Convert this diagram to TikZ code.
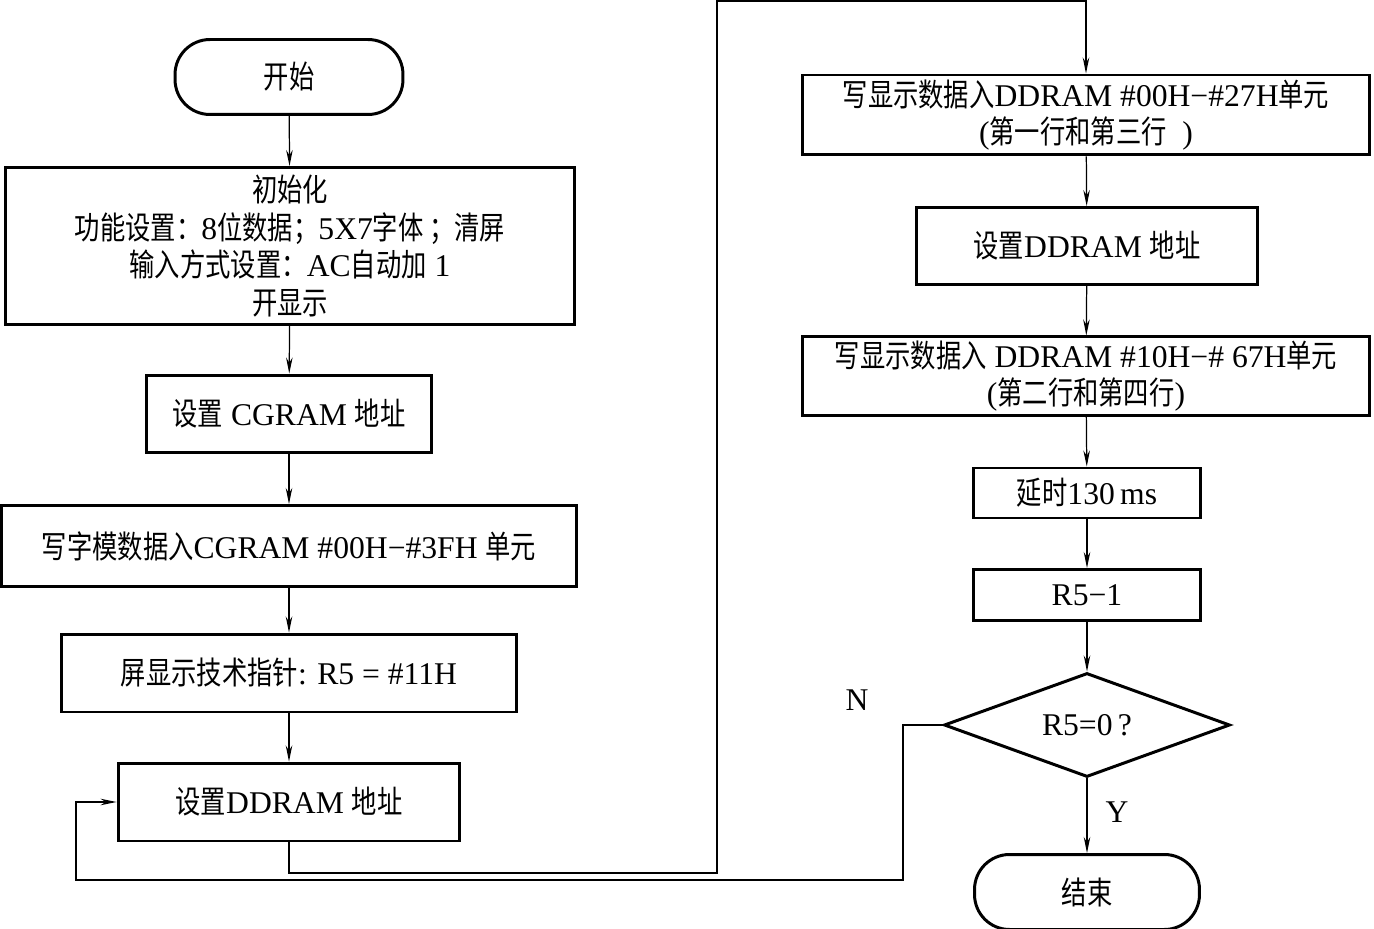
\documentclass[tikz,border=0pt]{standalone}
\usepackage{fontspec}
\setmainfont{Liberation Serif}
\newfontfamily\cjk[FakeStretch=0.8]{Noto Sans CJK SC}
\usetikzlibrary{arrows.meta,shapes.geometric}
\tikzset{
  proc/.style={draw=black, line width=1.7pt, inner sep=2pt, align=center,
    font=\fontsize{18}{21.5}\selectfont},
  term/.style={proc, rounded corners=0.7cm, minimum width=4.5cm, minimum height=1.5cm},
  decide/.style={draw=black, line width=1.7pt, diamond, aspect=2.75, inner sep=0pt,
    minimum width=5.72cm, minimum height=2.08cm, font=\fontsize{18}{21.5}\selectfont},
  arrow/.style={-{Stealth[length=3.2mm, width=1.3mm]}, line width=0.7pt},
  lbl/.style={font=\fontsize{18}{21.5}\selectfont},
}

\begin{document}
\begin{tikzpicture}[x=0.02cm,y=-0.02cm]
  \useasboundingbox (0,0) rectangle (1374,929);
  % left column
  \node[term, minimum width=4.56cm] (start) at (289,77) {{\cjk 开始}};
  \node[proc, minimum width=11.4cm, minimum height=3.14cm] (init) at (290,246)
    {{\cjk 初始化}\\{\cjk 功能设置：}8{\cjk 位数据；}5X7{\cjk 字体 ；清屏}\\
     {\cjk 输入方式设置：}AC{\cjk 自动加} 1\\{\cjk 开显示}};
  \node[proc, minimum width=5.7cm, minimum height=1.56cm] (cgram) at (289,414)
    {{\cjk 设置} CGRAM {\cjk 地址}};
  \node[proc, minimum width=11.5cm, minimum height=1.62cm] (font) at (289,546)
    {{\cjk 写字模数据入}CGRAM \#00H−\#3FH {\cjk 单元}};
  \node[proc, minimum width=9.1cm, minimum height=1.56cm] (ptr) at (289,673)
    {{\cjk 屏显示技术指针}: R5 = \#11H};
  \node[proc, minimum width=6.84cm, minimum height=1.56cm] (dd1) at (289,802)
    {{\cjk 设置}DDRAM {\cjk 地址}};
  % right column
  \node[proc, minimum width=11.36cm, minimum height=1.6cm] (w1) at (1086,115)
    {{\cjk 写显示数据入}DDRAM \#00H−\#27H{\cjk 单元}\\({\cjk 第一行和第三行}~~)};
  \node[proc, minimum width=6.82cm, minimum height=1.54cm] (dd2) at (1087,246)
    {{\cjk 设置}DDRAM {\cjk 地址}};
  \node[proc, minimum width=11.36cm, minimum height=1.56cm] (w2) at (1086,376)
    {{\cjk 写显示数据入} DDRAM \#10H−\# 67H{\cjk 单元}\\({\cjk 第二行和第四行})};
  \node[proc, minimum width=4.54cm, minimum height=1.0cm] (delay) at (1087,493)
    {{\cjk 延时}130\,ms};
  \node[proc, minimum width=4.54cm, minimum height=1.02cm] (dec) at (1087,595)
    {R5−1};
  \node[decide] (chk) at (1087,725) {R5=0\,?};
  \node[term] (end) at (1087,892) {{\cjk 结束}};
  \node[lbl] (nlbl) at (857,700) {N};
  \node[lbl] (ylbl) at (1117,812) {Y};
  % turning points
  \coordinate (bot) at (717,873);
  \coordinate (top) at (717,1);
  \coordinate (n1) at (903,880);
  \coordinate (n2) at (76,880);
  % connectors
  \draw[arrow] (start) -- (init);
  \draw[arrow] (init) -- (cgram);
  \draw[arrow] (cgram) -- (font);
  \draw[arrow] (font) -- (ptr);
  \draw[arrow] (ptr) -- (dd1);
  \draw[arrow] (dd1.south) |- (bot) -- (top) -| (w1.north);
  \draw[arrow] (w1) -- (dd2);
  \draw[arrow] (dd2) -- (w2);
  \draw[arrow] (w2) -- (delay);
  \draw[arrow] (delay) -- (dec);
  \draw[arrow] (dec) -- (chk);
  \draw[arrow] (chk) -- (end);
  \draw[arrow] (chk.west) -| (n1) -- (n2) |- (dd1.west);
\end{tikzpicture}
\end{document}
